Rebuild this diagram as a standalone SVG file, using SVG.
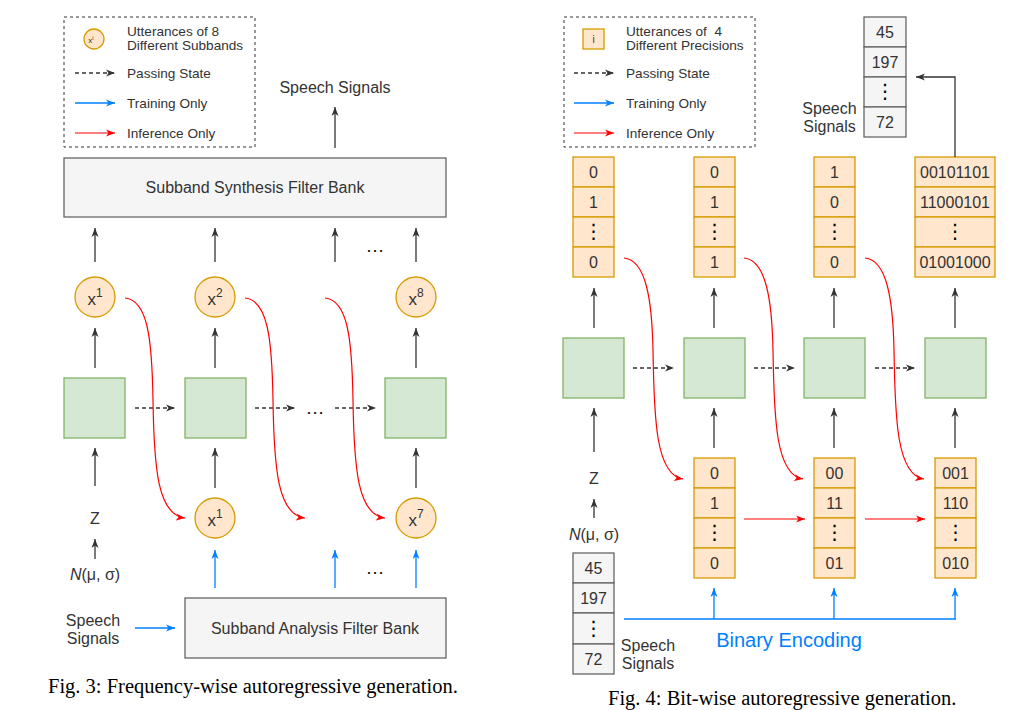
<svg xmlns="http://www.w3.org/2000/svg" width="1026" height="710" viewBox="0 0 1026 710">
<defs>
<marker id="ak" markerWidth="10" markerHeight="8" refX="9" refY="4" orient="auto" markerUnits="userSpaceOnUse"><path d="M0,0.5 L9,4 L0,7.5 L2.5,4 z" fill="#333"/></marker>
<marker id="ab" markerWidth="10" markerHeight="8" refX="9" refY="4" orient="auto" markerUnits="userSpaceOnUse"><path d="M0,0.5 L9,4 L0,7.5 L2.5,4 z" fill="#007FFF"/></marker>
<marker id="ar" markerWidth="10" markerHeight="8" refX="9" refY="4" orient="auto" markerUnits="userSpaceOnUse"><path d="M0,0.5 L9,4 L0,7.5 L2.5,4 z" fill="#FF0000"/></marker>
<style>
text{font-family:"Liberation Sans",Arial,sans-serif;fill:#333;}
.t13{font-size:13.6px;}
.t16{font-size:16px;text-anchor:middle;}
.xs{font-size:17px;text-anchor:middle;}
.cap{font-family:"Liberation Serif","Times New Roman",serif;font-size:20.5px;fill:#000;}
.dots{font-family:"DejaVu Sans",sans-serif;font-size:20px;text-anchor:middle;fill:#000;}
.green{fill:#d5e8d4;stroke:#82b366;stroke-width:1.3;}
.orange{fill:#ffe6cc;stroke:#d79b00;stroke-width:1.3;}
.gray{fill:#f5f5f5;stroke:#666;stroke-width:1.3;}
.leg{fill:none;stroke:#333;stroke-width:1;stroke-dasharray:3 3;}
.k{stroke:#333;stroke-width:1.3;fill:none;marker-end:url(#ak);}
.kd{stroke:#333;stroke-width:1.3;fill:none;stroke-dasharray:4 3;marker-end:url(#ak);}
.b{stroke:#007FFF;stroke-width:1.3;fill:none;marker-end:url(#ab);}
.bl{stroke:#007FFF;stroke-width:1.3;fill:none;}
.r{stroke:#FF0000;stroke-width:1.2;fill:none;marker-end:url(#ar);}
.ell{font-size:19px;text-anchor:middle;fill:#111;}
</style>
</defs>
<rect width="1026" height="710" fill="#fff"/>

<!-- ===== LEFT FIGURE ===== -->
<g id="legend-left">
<rect class="leg" x="64" y="17" width="191" height="130"/>
<circle cx="94" cy="39" r="10" class="orange"/>
<text x="91" y="43" style="font-size:8px;text-anchor:middle">x<tspan dy="-3" style="font-size:6px">i</tspan></text>
<text class="t13" x="127" y="35.5">Utterances of 8</text>
<text class="t13" x="127" y="50">Different Subbands</text>
<line class="kd" x1="75" y1="73" x2="115" y2="73"/>
<text class="t13" x="127" y="78">Passing State</text>
<line class="b" x1="75" y1="103" x2="115" y2="103"/>
<text class="t13" x="127" y="108">Training Only</text>
<line class="r" x1="75" y1="133" x2="115" y2="133"/>
<text class="t13" x="127" y="138">Inference Only</text>
</g>

<g id="speech-out-left"><text class="t16" x="335" y="93">Speech Signals</text></g>
<g id="synthesis">
<rect class="gray" x="64" y="158" width="382" height="59"/>
<text class="t16" x="255" y="193">Subband Synthesis Filter Bank</text>
</g>

<g id="cx1"><circle class="orange" cx="95" cy="297" r="20"/><text class="xs" x="95" y="305">x<tspan dy="-8" style="font-size:12px">1</tspan></text></g>
<g id="cx2"><circle class="orange" cx="215" cy="297" r="20"/><text class="xs" x="215" y="305">x<tspan dy="-8" style="font-size:12px">2</tspan></text></g>
<g id="cx8"><circle class="orange" cx="416" cy="297" r="20"/><text class="xs" x="416" y="305">x<tspan dy="-8" style="font-size:12px">8</tspan></text></g>

<g id="gl1"><rect class="green" x="64" y="378" width="61" height="60"/></g>
<g id="gl2"><rect class="green" x="185" y="378" width="61" height="60"/></g>
<g id="gl3"><rect class="green" x="385" y="378" width="61" height="60"/></g>

<g id="bx1"><circle class="orange" cx="215" cy="518" r="20"/><text class="xs" x="215" y="526">x<tspan dy="-8" style="font-size:12px">1</tspan></text></g>
<g id="bx7"><circle class="orange" cx="416" cy="518" r="20"/><text class="xs" x="416" y="526">x<tspan dy="-8" style="font-size:12px">7</tspan></text></g>

<g id="z-left"><text class="t16" x="95" y="524">Z</text></g>
<g id="n-left"><text class="t16" x="95" y="580"><tspan font-style="italic">N</tspan>(μ, σ)</text></g>
<g id="speech-in-left"><text class="t16" x="93" y="626">Speech</text><text class="t16" x="93" y="644">Signals</text></g>
<g id="analysis">
<rect class="gray" x="185" y="598" width="261" height="60"/>
<text class="t16" x="315" y="634">Subband Analysis Filter Bank</text>
</g>

<g id="ellipses-left">
<text class="ell" x="375" y="252">…</text>
<text class="ell" x="315" y="414">…</text>
<text class="ell" x="375" y="574">…</text>
</g>

<g id="connectors-left">
<line class="k" x1="335" y1="148" x2="335" y2="107"/>
<line class="k" x1="95" y1="262" x2="95" y2="228"/>
<line class="k" x1="215" y1="262" x2="215" y2="228"/>
<line class="k" x1="335" y1="262" x2="335" y2="228"/>
<line class="k" x1="416" y1="262" x2="416" y2="228"/>
<line class="k" x1="95" y1="368" x2="95" y2="328"/>
<line class="k" x1="215" y1="368" x2="215" y2="328"/>
<line class="k" x1="416" y1="368" x2="416" y2="328"/>
<line class="kd" x1="135" y1="408" x2="175" y2="408"/>
<line class="kd" x1="255" y1="408" x2="295" y2="408"/>
<line class="kd" x1="335" y1="408" x2="376" y2="408"/>
<line class="k" x1="95" y1="486" x2="95" y2="448"/>
<line class="k" x1="215" y1="488" x2="215" y2="448"/>
<line class="k" x1="416" y1="488" x2="416" y2="448"/>
<line class="k" x1="95" y1="559" x2="95" y2="539"/>
<line class="b" x1="215" y1="588" x2="215" y2="550"/>
<line class="b" x1="335" y1="588" x2="335" y2="550"/>
<line class="b" x1="416" y1="588" x2="416" y2="550"/>
<line class="b" x1="135" y1="628" x2="175" y2="628"/>
<path class="r" d="M125,298 C148,300 152,340 153,400 C154,470 158,515 185,518"/>
<path class="r" d="M245,298 C268,300 272,340 273,400 C274,470 278,515 305,518"/>
<path class="r" d="M325,298 C348,300 352,340 353,400 C354,470 358,515 385,518"/>
</g>

<text class="cap" x="48" y="693">Fig. 3: Frequency-wise autoregressive generation.</text>

<!-- ===== RIGHT FIGURE ===== -->
<g id="legend-right">
<rect class="leg" x="564" y="17" width="191" height="130"/>
<rect class="orange" x="583" y="29" width="21" height="20"/>
<text x="593.5" y="43" style="font-size:10px;text-anchor:middle">i</text>
<text class="t13" x="626" y="35.5">Utterances of&#160; 4</text>
<text class="t13" x="626" y="50">Different Precisions</text>
<line class="kd" x1="574" y1="73" x2="614" y2="73"/>
<text class="t13" x="626" y="78">Passing State</text>
<line class="b" x1="574" y1="103" x2="614" y2="103"/>
<text class="t13" x="626" y="108">Training Only</text>
<line class="r" x1="574" y1="133" x2="614" y2="133"/>
<text class="t13" x="626" y="138">Inference Only</text>
</g>

<g id="speech-out-right">
<rect class="gray" x="864" y="17" width="42" height="30"/>
<rect class="gray" x="864" y="47" width="42" height="30"/>
<rect class="gray" x="864" y="77" width="42" height="30"/>
<rect class="gray" x="864" y="107" width="42" height="30"/>
<text class="t16" x="885" y="38">45</text>
<text class="t16" x="885" y="68">197</text>
<text class="dots" x="885" y="98">⋮</text>
<text class="t16" x="885" y="128">72</text>
<text class="t16" x="829.5" y="114">Speech</text>
<text class="t16" x="829.5" y="132">Signals</text>
</g>

<g id="top1">
<rect class="orange" x="573" y="157" width="41" height="30"/>
<rect class="orange" x="573" y="187" width="41" height="30"/>
<rect class="orange" x="573" y="217" width="41" height="30"/>
<rect class="orange" x="573" y="247" width="41" height="30"/>
<text class="t16" x="593.5" y="178">0</text>
<text class="t16" x="593.5" y="208">1</text>
<text class="dots" x="593.5" y="238">⋮</text>
<text class="t16" x="593.5" y="268">0</text>
</g>
<g id="top2">
<rect class="orange" x="694" y="157" width="41" height="30"/>
<rect class="orange" x="694" y="187" width="41" height="30"/>
<rect class="orange" x="694" y="217" width="41" height="30"/>
<rect class="orange" x="694" y="247" width="41" height="30"/>
<text class="t16" x="714.5" y="178">0</text>
<text class="t16" x="714.5" y="208">1</text>
<text class="dots" x="714.5" y="238">⋮</text>
<text class="t16" x="714.5" y="268">1</text>
</g>
<g id="top3">
<rect class="orange" x="814" y="157" width="41" height="30"/>
<rect class="orange" x="814" y="187" width="41" height="30"/>
<rect class="orange" x="814" y="217" width="41" height="30"/>
<rect class="orange" x="814" y="247" width="41" height="30"/>
<text class="t16" x="834.5" y="178">1</text>
<text class="t16" x="834.5" y="208">0</text>
<text class="dots" x="834.5" y="238">⋮</text>
<text class="t16" x="834.5" y="268">0</text>
</g>
<g id="top4">
<rect class="orange" x="915" y="157" width="80" height="30"/>
<rect class="orange" x="915" y="187" width="80" height="30"/>
<rect class="orange" x="915" y="217" width="80" height="30"/>
<rect class="orange" x="915" y="247" width="80" height="30"/>
<text class="t16" x="955" y="178">00101101</text>
<text class="t16" x="955" y="208">11000101</text>
<text class="dots" x="955" y="238">⋮</text>
<text class="t16" x="955" y="268">01001000</text>
</g>

<g id="gr1"><rect class="green" x="563" y="338" width="61" height="60"/></g>
<g id="gr2"><rect class="green" x="684" y="338" width="61" height="60"/></g>
<g id="gr3"><rect class="green" x="804" y="338" width="61" height="60"/></g>
<g id="gr4"><rect class="green" x="925" y="338" width="61" height="60"/></g>

<g id="bot2">
<rect class="orange" x="694" y="458" width="41" height="30"/>
<rect class="orange" x="694" y="488" width="41" height="30"/>
<rect class="orange" x="694" y="518" width="41" height="30"/>
<rect class="orange" x="694" y="548" width="41" height="30"/>
<text class="t16" x="714.5" y="479">0</text>
<text class="t16" x="714.5" y="509">1</text>
<text class="dots" x="714.5" y="539">⋮</text>
<text class="t16" x="714.5" y="569">0</text>
</g>
<g id="bot3">
<rect class="orange" x="814" y="458" width="41" height="30"/>
<rect class="orange" x="814" y="488" width="41" height="30"/>
<rect class="orange" x="814" y="518" width="41" height="30"/>
<rect class="orange" x="814" y="548" width="41" height="30"/>
<text class="t16" x="834.5" y="479">00</text>
<text class="t16" x="834.5" y="509">11</text>
<text class="dots" x="834.5" y="539">⋮</text>
<text class="t16" x="834.5" y="569">01</text>
</g>
<g id="bot4">
<rect class="orange" x="935" y="458" width="41" height="30"/>
<rect class="orange" x="935" y="488" width="41" height="30"/>
<rect class="orange" x="935" y="518" width="41" height="30"/>
<rect class="orange" x="935" y="548" width="41" height="30"/>
<text class="t16" x="955.5" y="479">001</text>
<text class="t16" x="955.5" y="509">110</text>
<text class="dots" x="955.5" y="539">⋮</text>
<text class="t16" x="955.5" y="569">010</text>
</g>

<g id="z-right"><text class="t16" x="594" y="484">Z</text></g>
<g id="n-right"><text class="t16" x="594" y="540"><tspan font-style="italic">N</tspan>(μ, σ)</text></g>

<g id="speech-in-right">
<rect class="gray" x="573" y="553" width="41" height="30"/>
<rect class="gray" x="573" y="583" width="41" height="30"/>
<rect class="gray" x="573" y="613" width="41" height="31"/>
<rect class="gray" x="573" y="644" width="41" height="30"/>
<text class="t16" x="593.5" y="574">45</text>
<text class="t16" x="593.5" y="604">197</text>
<text class="dots" x="593.5" y="635">⋮</text>
<text class="t16" x="593.5" y="665">72</text>
<text class="t16" x="648" y="651">Speech</text>
<text class="t16" x="648" y="669">Signals</text>
</g>

<g id="binary-encoding"><text x="789" y="647" style="font-size:20px;text-anchor:middle;fill:#007FFF">Binary Encoding</text></g>

<g id="connectors-right">
<path class="k" d="M955,157 L955,77 L916,77"/>
<line class="k" x1="594" y1="328" x2="594" y2="288"/>
<line class="k" x1="714" y1="328" x2="714" y2="288"/>
<line class="k" x1="834" y1="328" x2="834" y2="288"/>
<line class="k" x1="955" y1="328" x2="955" y2="288"/>
<line class="kd" x1="633" y1="368" x2="674" y2="368"/>
<line class="kd" x1="754" y1="368" x2="795" y2="368"/>
<line class="kd" x1="875" y1="368" x2="915" y2="368"/>
<line class="k" x1="594" y1="452" x2="594" y2="408"/>
<line class="k" x1="714" y1="448" x2="714" y2="408"/>
<line class="k" x1="834" y1="448" x2="834" y2="408"/>
<line class="k" x1="955" y1="448" x2="955" y2="408"/>
<line class="k" x1="594" y1="518" x2="594" y2="499"/>
<line class="r" x1="744" y1="519" x2="805" y2="519"/>
<line class="r" x1="865" y1="519" x2="925" y2="519"/>
<path class="bl" d="M624,619 L956,619"/>
<line class="b" x1="714" y1="619" x2="714" y2="588"/>
<line class="b" x1="834" y1="619" x2="834" y2="588"/>
<line class="b" x1="955" y1="619" x2="955" y2="588"/>
<path class="r" d="M624,258 C646,260 652,300 653,350 C654,420 656,475 683,479"/>
<path class="r" d="M744,258 C766,260 772,300 773,350 C774,420 776,475 803,479"/>
<path class="r" d="M865,258 C887,260 893,300 894,350 C895,420 897,475 924,479"/>
</g>

<text class="cap" x="608" y="705">Fig. 4: Bit-wise autoregressive generation.</text>
</svg>
